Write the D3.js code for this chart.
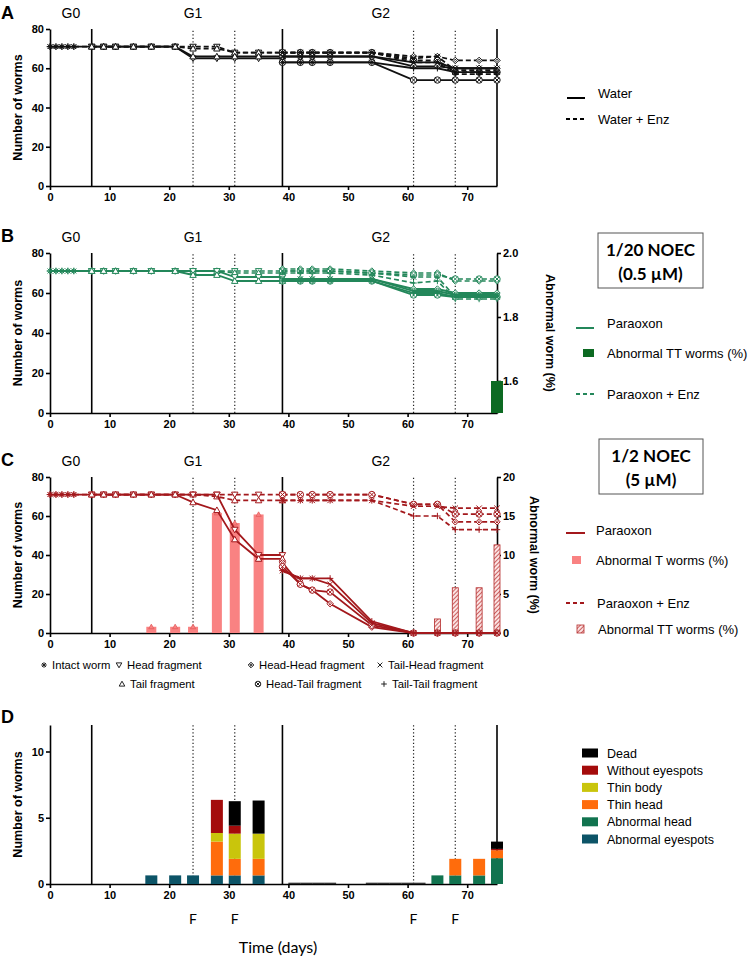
<!DOCTYPE html>
<html><head><meta charset="utf-8">
<script src="https://cdn.jsdelivr.net/npm/d3@7"></script>
<style>body{margin:0;background:#fff}svg{display:block}</style>
</head><body>
<svg id="c" width="750" height="957"></svg>
<script>
// ---------------- DATA ----------------
const G0_DAYS = [0,1,2,3,4,7];
const G1_DAYS = [7,9,11,14,17,21,24,28,31,35,39];
const G2_DAYS = [39,42,44,47,54,61,65,68,72,75];
const X_TICKS = [0,10,20,30,40,50,60,70];
const Y_TICKS = [0,20,40,60,80];
const SOLID_CUTS = [7,39];
const DOTTED_DAYS = [24,31,61,68];
const F_DAYS = [24,31,61,68];
const GEN_LABELS = ['G0','G1','G2'];
const GEN_DAYS = [3.5,24,55.5];

// Panel A (Water solid / Water + Enz dashed)
const A_intact_w = [71,71,71,71,71,71];
const A_intact_e = [71,71,71,71,71,71];
const A_head_w = [71,71,71,71,71,71,65,65,65,65,65];
const A_tail_w = [71,71,71,71,71,71,66,66,66,66,66];
const A_head_e = [71,71,71,71,71,71,71,71,68,68,68];
const A_tail_e = [71,71,71,71,71,71,70,70,68,68,68];
const A_hh_w = [66,66,66,66,66,61,61,60,60,60];
const A_ht_w = [63,63,63,63,63,54,54,54,54,54];
const A_th_w = [66,66,66,66,66,63,63,60,60,60];
const A_tt_w = [63,63,63,63,63,60,60,58,58,58];
const A_hh_e = [68,68,68,68,68,66,66,64,64,64];
const A_ht_e = [68,68,68,68,68,64,64,58,58,58];
const A_th_e = [68,68,68,68,68,65,66,59,59,59];
const A_tt_e = [68,68,68,68,68,63,63,57,57,57];

// Panel B (1/20 NOEC)
const B_intact_p = [71,71,71,71,71,71];
const B_intact_e = [71,71,71,71,71,71];
const B_head_p = [71,71,71,71,71,71,71,71,68,68,68];
const B_tail_p = [71,71,71,71,71,71,69,69,66,66,66];
const B_head_e = [71,71,71,71,71,71,71,71,71,71,71];
const B_tail_e = [71,71,71,71,71,71,71,71,70,70,70];
const B_hh_p = [67,67,67,67,67,62,62,60,60,60];
const B_ht_p = [66,66,66,66,66,59,59,58,58,58];
const B_th_p = [67,67,67,67,67,61,61,59,59,59];
const B_tt_p = [66,66,66,66,66,60,60,58,58,58];
const B_hh_e = [72,72,72,72,71,70,70,66,66,66];
const B_ht_e = [71,71,71,71,70,69,69,67,67,67];
const B_th_e = [71,71,71,71,70,68,68,58,58,58];
const B_tt_e = [70,70,70,70,69,65,66,57,57,57];
const B_TT_days = [75];
const B_TT_pct = [1.6];

// Panel C (1/2 NOEC)
const C_intact_p = [71,71,71,71,71,71];
const C_intact_e = [71,71,71,71,71,71];
const C_head_p = [71,71,71,71,71,71,71,71,53,40,40];
const C_tail_p = [71,71,71,71,71,71,67,63,48,38,38];
const C_head_e = [71,71,71,71,71,71,71,71,71,71,71];
const C_tail_e = [71,71,71,71,71,71,71,70,68,68,68];
const C_hh_p = [36,25,22,15,3,0,0,0,0,0];
const C_ht_p = [34,25,22,21,4,0,0,0,0,0];
const C_th_p = [32,28,28,25,5,0,0,0,0,0];
const C_tt_p = [32,28,28,28,6,0,0,0,0,0];
const C_hh_e = [71,71,71,71,71,66,66,57,57,57];
const C_ht_e = [71,71,71,71,71,66,66,61,61,61];
const C_th_e = [68,68,68,68,68,65,65,64,64,64];
const C_tt_e = [68,68,68,68,68,60,60,53,53,53];
const C_T_days = [17,21,24,28,31,35];
const C_T_pct = [0.8,0.8,0.8,15.4,14.1,15.2];
const C_TT_days = [65,68,72,75];
const C_TT_pct = [1.8,5.8,5.8,11.3];

// Panel D (stacked abnormalities)
const D_days = [17,21,24,28,31,35,65,68,72,75];
const D_abnEyespots = [0.65,0.65,0.65,0.65,0.65,0.65,0,0,0,0];
const D_abnHead = [0,0,0,0,0,0,0.65,0.65,0.65,1.95];
const D_thinHead = [0,0,0,2.55,1.25,1.25,0,1.25,1.25,0.6];
const D_thinBody = [0,0,0,0.65,1.9,1.9,0,0,0,0];
const D_withoutEyespots = [0,0,0,2.5,0.6,0,0,0,0,0.1];
const D_dead = [0,0,0,0,1.85,2.5,0,0,0,0.55];
const D_zero_days = [41,43,45,47,54,56,58,60,62];
const D_zero_vals = [0.1,0.1,0.1,0.1,0.1,0.1,0.1,0.1,0.1];
const D_categories = ['Abnormal eyespots','Abnormal head','Thin head','Thin body','Without eyespots','Dead'];
const D_colors = ['#0c5467','#11734f','#ff6c0c','#c9c50c','#a40b0b','#000000'];

const FRAG_LABELS = ['Intact worm','Head fragment','Head-Head fragment','Tail-Head fragment','Tail fragment','Head-Tail fragment','Tail-Tail fragment'];
const FRAG_KEYS = ['intact','head','hh','th','tail','ht','tt'];

// ---------------- DRAW ----------------
const svg = d3.select('#c');
const AX = "'Liberation Sans', Arial, sans-serif";
const CAL = "Lato, 'Open Sans', sans-serif";
const x = d3.scaleLinear().domain([0,75]).range([50,497]);

const defs = svg.append('defs');
const pat = defs.append('pattern').attr('id','hatch').attr('patternUnits','userSpaceOnUse')
  .attr('width',3).attr('height',3).attr('patternTransform','rotate(45)');
pat.append('rect').attr('width',3).attr('height',3).attr('fill','#fbe3e3');
pat.append('line').attr('x1',0).attr('y1',0).attr('x2',0).attr('y2',3).attr('stroke','#b52a2a').attr('stroke-width',1.4);

function symPath(t, r){
  switch(t){
    case 'intact': { let p=''; for(let k=0;k<4;k++){const a=k*Math.PI/4; p+=`M${(-r*Math.cos(a)).toFixed(2)},${(-r*Math.sin(a)).toFixed(2)}L${(r*Math.cos(a)).toFixed(2)},${(r*Math.sin(a)).toFixed(2)}`;} return p; }
    case 'head': return `M${-r},${-r*0.75}L${r},${-r*0.75}L0,${r}Z`;
    case 'tail': return `M${-r},${r*0.75}L${r},${r*0.75}L0,${-r}Z`;
    case 'hh': return `M0,${-r}L${r},0L0,${r}L${-r},0Z M0,-1.2L1.2,0L0,1.2L-1.2,0Z`;
    case 'ht': { const k=r*0.7; return `M${r},0A${r},${r} 0 1 1 ${-r},0A${r},${r} 0 1 1 ${r},0Z M${-k},${-k}L${k},${k}M${-k},${k}L${k},${-k}`; }
    case 'th': { const k=r*0.85; return `M${-k},${-k}L${k},${k}M${-k},${k}L${k},${-k}`; }
    case 'tt': return `M${-r},0L${r},0M0,${-r}L0,${r}`;
  }
}
function closed(t){ return t==='head'||t==='tail'||t==='hh'||t==='ht'; }

function drawSeries(g, y, days, vals, color, dashed, t){
  const line = d3.line().x((d,i)=>x(days[i])).y(d=>y(d));
  g.append('path').attr('d', line(vals)).attr('fill','none').attr('stroke',color)
    .attr('stroke-width', dashed?1.7:1.8).attr('stroke-dasharray', dashed?'5,3':null);
  g.selectAll(null).data(vals).enter().append('path')
    .attr('transform',(d,i)=>`translate(${x(days[i])},${y(d)})`)
    .attr('d', symPath(t,3.2)).attr('fill', closed(t)?'#fff':'none')
    .attr('stroke', color).attr('stroke-width',1);
}

function panelFrame(cfg){
  const g = svg.append('g');
  const y = cfg.y;
  const [yb, yt] = y.range();
  g.selectAll(null).data(SOLID_CUTS.concat(cfg.rightSolid?[75]:[])).enter().append('line')
    .attr('x1',d=>x(d)).attr('x2',d=>x(d)).attr('y1',yb).attr('y2',yt)
    .attr('stroke','#000').attr('stroke-width',1.6);
  g.selectAll(null).data(DOTTED_DAYS).enter().append('line')
    .attr('x1',d=>x(d)).attr('x2',d=>x(d)).attr('y1',yb).attr('y2',yt)
    .attr('stroke','#222').attr('stroke-width',1.2).attr('stroke-dasharray','1.3,2.2');
  const la = g.append('g').attr('transform',`translate(${x(0)},0)`)
    .call(d3.axisLeft(y).tickValues(cfg.yticks).tickSize(4).tickSizeOuter(0).tickPadding(2));
  const ba = g.append('g').attr('transform',`translate(0,${yb})`)
    .call(d3.axisBottom(x).tickValues(X_TICKS).tickSize(4).tickSizeOuter(0).tickPadding(3));
  [la,ba].forEach(a=>{
    a.selectAll('path,line').attr('stroke','#000').attr('stroke-width',1.6);
    a.selectAll('text').attr('font-family',AX).attr('font-weight','bold').attr('font-size',11).attr('fill','#000');
  });
  if (cfg.yR){
    const ra = g.append('g').attr('transform',`translate(${x(75)},0)`)
      .call(d3.axisRight(cfg.yR).tickValues(cfg.yRticks).tickFormat(cfg.yRfmt).tickSize(4).tickSizeOuter(0).tickPadding(2));
    ra.selectAll('path,line').attr('stroke','#000').attr('stroke-width',1.6);
    ra.selectAll('text').attr('font-family',AX).attr('font-weight','bold').attr('font-size',11).attr('fill','#000');
    g.append('text').attr('transform',`translate(${cfg.yRtitleX},${(yb+yt)/2}) rotate(90)`)
      .attr('text-anchor','middle').attr('font-family',AX).attr('font-weight','bold').attr('font-size',12.5)
      .text('Abnormal worm (%)');
  }
  g.append('text').attr('transform',`translate(22,${(yb+yt)/2}) rotate(-90)`)
    .attr('text-anchor','middle').attr('font-family',AX).attr('font-weight','bold').attr('font-size',12.5)
    .text('Number of worms');
  g.append('text').attr('x',1).attr('y',cfg.letterY).attr('font-family',AX).attr('font-weight','bold')
    .attr('font-size',18).text(cfg.letter);
  if (cfg.gen){
    g.selectAll(null).data(GEN_LABELS).enter().append('text')
      .attr('x',(d,i)=>x(GEN_DAYS[i])).attr('y',yt-11).attr('text-anchor','middle')
      .attr('font-family',AX).attr('font-size',14).text(d=>d);
  }
  return g;
}

function panelLines(g, y, col, S){
  [['dashed',true],['solid',false]].forEach(([k,dash])=>{
    const s = S[k];
    drawSeries(g,y,G0_DAYS,s.intact,col,dash,'intact');
    drawSeries(g,y,G1_DAYS,s.head,col,dash,'head');
    drawSeries(g,y,G1_DAYS,s.tail,col,dash,'tail');
    drawSeries(g,y,G2_DAYS,s.hh,col,dash,'hh');
    drawSeries(g,y,G2_DAYS,s.ht,col,dash,'ht');
    drawSeries(g,y,G2_DAYS,s.th,col,dash,'th');
    drawSeries(g,y,G2_DAYS,s.tt,col,dash,'tt');
  });
}

function legLine(x1,x2,yy,col,dash){
  svg.append('line').attr('x1',x1).attr('x2',x2).attr('y1',yy).attr('y2',yy)
    .attr('stroke',col).attr('stroke-width',2).attr('stroke-dasharray',dash?'4,3':null);
}
function legText(xx,yy,t,size){
  svg.append('text').attr('x',xx).attr('y',yy).attr('font-family',AX).attr('font-size',size||13).text(t);
}
function box(x0,y0,w,h,l1,l2){
  svg.append('rect').attr('x',x0).attr('y',y0).attr('width',w).attr('height',h)
    .attr('fill','#fff').attr('stroke','#555').attr('stroke-width',1);
  [l1,l2].forEach((t,i)=>svg.append('text').attr('x',x0+w/2).attr('y',y0+23+i*24).attr('text-anchor','middle')
    .attr('font-family',CAL).attr('font-weight','bold').attr('font-size',17).text(t));
}

// ---- Panel A ----
const yA = d3.scaleLinear().domain([0,80]).range([186,29]);
const gA = panelFrame({y:yA, yticks:Y_TICKS, letter:'A', letterY:19, gen:true, rightSolid:true});
panelLines(gA, yA, '#111', {
  solid:{intact:A_intact_w, head:A_head_w, tail:A_tail_w, hh:A_hh_w, ht:A_ht_w, th:A_th_w, tt:A_tt_w},
  dashed:{intact:A_intact_e, head:A_head_e, tail:A_tail_e, hh:A_hh_e, ht:A_ht_e, th:A_th_e, tt:A_tt_e}});
legLine(567,585,98,'#000',false); legText(598,98,'Water');
legLine(566,585,119,'#000',true); legText(598,124,'Water +  Enz');

// ---- Panel B ----
const GREEN = '#23875a';
const yB = d3.scaleLinear().domain([0,80]).range([413,253]);
const yBR = d3.scaleLinear().domain([1.5,2.0]).range([413,253]);
const gB = panelFrame({y:yB, yticks:Y_TICKS, letter:'B', letterY:242, gen:true,
  yR:yBR, yRticks:[1.6,1.8,2.0], yRfmt:d3.format('.1f'), yRtitleX:546});
panelLines(gB, yB, GREEN, {
  solid:{intact:B_intact_p, head:B_head_p, tail:B_tail_p, hh:B_hh_p, ht:B_ht_p, th:B_th_p, tt:B_tt_p},
  dashed:{intact:B_intact_e, head:B_head_e, tail:B_tail_e, hh:B_hh_e, ht:B_ht_e, th:B_th_e, tt:B_tt_e}});
gB.selectAll(null).data(B_TT_pct).enter().append('rect')
  .attr('x',(d,i)=>x(B_TT_days[i])-6).attr('width',12)
  .attr('y',d=>yBR(d)).attr('height',d=>yBR(1.5)-yBR(d)).attr('fill','#0c6a22');
box(598,233,105,55,'1/20 NOEC','(0.5 µM)');
legLine(576,594,328,GREEN,false); legText(607,328,'Paraoxon');
svg.append('rect').attr('x',583).attr('y',349).attr('width',11).attr('height',8).attr('fill','#0c6a22');
legText(607,358,'Abnormal TT  worms (%)');
legLine(576,594,394,GREEN,true); legText(607,399,'Paraoxon +  Enz');

// ---- Panel C ----
const RED = '#a3181c';
const PINK = '#f98282';
const yC = d3.scaleLinear().domain([0,80]).range([633,477]);
const yCR = d3.scaleLinear().domain([0,20]).range([633,477]);
const gC = panelFrame({y:yC, yticks:Y_TICKS, letter:'C', letterY:466, gen:true,
  yR:yCR, yRticks:[0,5,10,15,20], yRfmt:d3.format('d'), yRtitleX:530});
gC.selectAll(null).data(C_T_pct).enter().append('rect')
  .attr('x',(d,i)=>x(C_T_days[i])-5).attr('width',10)
  .attr('y',d=>yCR(d)).attr('height',d=>yCR(0)-yCR(d)).attr('fill',PINK);
gC.selectAll(null).data(C_T_pct).enter().append('path')
  .attr('transform',(d,i)=>`translate(${x(C_T_days[i])},${yCR(d)})`)
  .attr('d',symPath('tail',2.6)).attr('fill',PINK).attr('stroke','#e35d5d').attr('stroke-width',0.8);
gC.selectAll(null).data(C_TT_pct).enter().append('rect')
  .attr('x',(d,i)=>x(C_TT_days[i])-3).attr('width',6)
  .attr('y',d=>yCR(d)).attr('height',d=>yCR(0)-yCR(d)).attr('fill','url(#hatch)')
  .attr('stroke','#b52a2a').attr('stroke-width',0.8);
panelLines(gC, yC, RED, {
  solid:{intact:C_intact_p, head:C_head_p, tail:C_tail_p, hh:C_hh_p, ht:C_ht_p, th:C_th_p, tt:C_tt_p},
  dashed:{intact:C_intact_e, head:C_head_e, tail:C_tail_e, hh:C_hh_e, ht:C_ht_e, th:C_th_e, tt:C_tt_e}});
box(599,439,104,55,'1/2 NOEC','(5 µM)');
legLine(566,585,533,RED,false); legText(596,535,'Paraoxon');
svg.append('rect').attr('x',572).attr('y',556).attr('width',9).attr('height',8).attr('fill',PINK);
legText(596,565,'Abnormal  T worms  (%)');
legLine(566,585,603,RED,true); legText(597,608,'Paraoxon + Enz');
svg.append('rect').attr('x',577).attr('y',625).attr('width',7).attr('height',8).attr('fill','url(#hatch)')
  .attr('stroke','#b52a2a').attr('stroke-width',0.8);
legText(598,634,'Abnormal TT worms (%)');

// fragment symbol legend
const fragPos = [[44,669],[119,669],[251,669],[380,669],[122,688],[258,688],[384,688]];
FRAG_LABELS.forEach((lab,i)=>{
  const [px,py] = fragPos[i];
  svg.append('path').attr('transform',`translate(${px},${py-4})`).attr('d',symPath(FRAG_KEYS[i],2.8))
    .attr('fill',closed(FRAG_KEYS[i])?'#fff':'none').attr('stroke','#222').attr('stroke-width',1);
  legText(px+8,py,lab,11.3);
});

// ---- Panel D ----
const yD = d3.scaleLinear().domain([0,12]).range([884,725]);
const gD = panelFrame({y:yD, yticks:[0,5,10], letter:'D', letterY:723, gen:false, rightSolid:true});
const dRows = D_days.map((d,i)=>({day:d, 'Abnormal eyespots':D_abnEyespots[i], 'Abnormal head':D_abnHead[i],
  'Thin head':D_thinHead[i], 'Thin body':D_thinBody[i], 'Without eyespots':D_withoutEyespots[i], 'Dead':D_dead[i]}));
const stack = d3.stack().keys(D_categories)(dRows);
stack.forEach((layer,k)=>{
  gD.selectAll(null).data(layer).enter().append('rect')
    .attr('x',d=>x(d.data.day)-6).attr('width',12)
    .attr('y',d=>yD(d[1])).attr('height',d=>yD(d[0])-yD(d[1]))
    .attr('fill',D_colors[k]);
});
gD.selectAll(null).data(D_zero_vals).enter().append('rect')
  .attr('x',(d,i)=>x(D_zero_days[i])-6).attr('width',12)
  .attr('y',d=>yD(d)).attr('height',d=>yD(0)-yD(d)).attr('fill','#333');
const legOrder = D_categories.slice().reverse();
legOrder.forEach((c,i)=>{
  const cy = 753 + i*17.2;
  svg.append('rect').attr('x',582).attr('y',cy-4.5).attr('width',16).attr('height',9)
    .attr('fill',D_colors[D_categories.indexOf(c)]);
  legText(607,cy+4.5,c,12.5);
});
svg.selectAll(null).data(F_DAYS).enter().append('text')
  .attr('x',d=>x(d)).attr('y',924).attr('text-anchor','middle')
  .attr('font-family',CAL).attr('font-size',14).text('F');
svg.append('text').attr('x',278).attr('y',953).attr('text-anchor','middle')
  .attr('font-family',CAL).attr('font-size',16).text('Time (days)');
</script></body></html>
